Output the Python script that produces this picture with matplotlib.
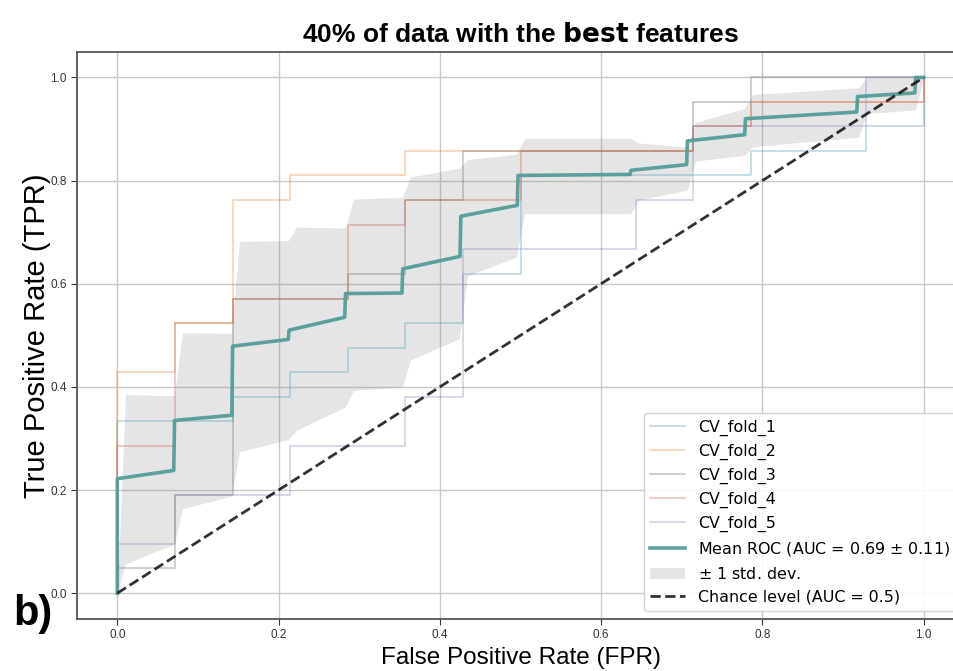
import matplotlib
matplotlib.use("Agg")
import matplotlib.pyplot as plt
from matplotlib import font_manager as fm

# ROC corner points of each CV fold
fold1_fpr = [0, 0, 0.143, 0.143, 0.214, 0.214, 0.286, 0.286, 0.357, 0.357, 0.429, 0.429,
             0.5, 0.5, 0.786, 0.786, 0.929, 0.929, 1.0, 1.0]
fold1_tpr = [0, 0.333, 0.333, 0.381, 0.381, 0.429, 0.429, 0.476, 0.476, 0.524, 0.524, 0.619,
             0.619, 0.81, 0.81, 0.857, 0.857, 0.905, 0.905, 1.0]

fold2_fpr = [0, 0, 0.071, 0.071, 0.143, 0.143, 0.214, 0.214, 0.357, 0.357, 0.714, 0.714,
             0.786, 0.786, 1.0, 1.0]
fold2_tpr = [0, 0.429, 0.429, 0.524, 0.524, 0.762, 0.762, 0.81, 0.81, 0.857, 0.857, 0.905,
             0.905, 0.952, 0.952, 1.0]

fold3_fpr = [0, 0, 0.071, 0.071, 0.143, 0.143, 0.286, 0.286, 0.357, 0.357, 0.429, 0.429,
             0.714, 0.714, 0.786, 0.786, 1.0]
fold3_tpr = [0, 0.048, 0.048, 0.19, 0.19, 0.571, 0.571, 0.619, 0.619, 0.762, 0.762, 0.857,
             0.857, 0.952, 0.952, 1.0, 1.0]

fold4_fpr = [0, 0, 0.071, 0.071, 0.143, 0.143, 0.286, 0.286, 0.357, 0.357, 0.5, 0.5,
             0.714, 0.714, 0.786, 0.786, 1.0, 1.0]
fold4_tpr = [0, 0.286, 0.286, 0.524, 0.524, 0.571, 0.571, 0.714, 0.714, 0.762, 0.762, 0.857,
             0.857, 0.905, 0.905, 0.952, 0.952, 1.0]

fold5_fpr = [0, 0, 0.071, 0.071, 0.214, 0.214, 0.357, 0.357, 0.429, 0.429, 0.643, 0.643,
             0.714, 0.714, 0.929, 0.929, 1.0]
fold5_tpr = [0, 0.095, 0.095, 0.19, 0.19, 0.286, 0.286, 0.381, 0.381, 0.667, 0.667, 0.762,
             0.762, 0.905, 0.905, 1.0, 1.0]

fold_labels = ["CV_fold_1", "CV_fold_2", "CV_fold_3", "CV_fold_4", "CV_fold_5"]

# mean ROC curve
mean_fpr = [0, 0, 0.070, 0.071, 0.142, 0.143, 0.212, 0.213, 0.282, 0.283, 0.353, 0.354,
            0.425, 0.426, 0.496, 0.497, 0.636, 0.637, 0.706, 0.707, 0.778, 0.779, 0.917,
            0.918, 0.989, 0.99, 1.0]
mean_tpr = [0, 0.222, 0.238, 0.335, 0.345, 0.479, 0.492, 0.510, 0.535, 0.581, 0.582, 0.629,
            0.653, 0.731, 0.752, 0.810, 0.812, 0.820, 0.831, 0.877, 0.889, 0.920, 0.933,
            0.963, 0.970, 1.0, 1.0]

# +/- 1 std band
band_fpr = [0, 0.0101, 0.0707, 0.0808, 0.1414, 0.1515, 0.2121, 0.2222, 0.2828, 0.2929,
            0.3535, 0.3636, 0.4242, 0.4343, 0.4949, 0.5051, 0.6364, 0.6465, 0.7071, 0.7172,
            0.7778, 0.7879, 0.9192, 0.9293, 0.9899, 1.0]
band_upper = [0, 0.385, 0.383, 0.505, 0.504, 0.682, 0.684, 0.710, 0.708, 0.764, 0.768, 0.807,
              0.824, 0.841, 0.851, 0.882, 0.882, 0.873, 0.865, 0.913, 0.940, 0.967, 0.980,
              1.0, 1.0, 1.0]
band_lower = [0, 0.057, 0.095, 0.164, 0.188, 0.274, 0.298, 0.316, 0.361, 0.393, 0.400, 0.452,
              0.494, 0.615, 0.652, 0.736, 0.736, 0.762, 0.782, 0.838, 0.849, 0.866, 0.884,
              0.930, 0.937, 1.0]

ticks = [0.0, 0.2, 0.4, 0.6, 0.8, 1.0]

fold_colors = ["#4a9fb8", "#f0883a", "#6e6e6e", "#d0604a", "#8a88c4"]


def pick_font(names):
    # first family that is really installed
    for n in names:
        try:
            fm.findfont(fm.FontProperties(family=n), fallback_to_default=False)
            return n
        except ValueError:
            pass
    return names[-1]


narrow = pick_font(["Liberation Sans Narrow", "Arial Narrow", "Liberation Sans"])
narrow_size = 20 if narrow != "Liberation Sans" else 17.5

fig = plt.figure(figsize=(9.54, 6.71), dpi=100)
# axes runs past the right edge of the picture, like the cropped original
ax = fig.add_axes([0.0807, 0.0775, 0.9298, 0.8455])

folds = [(fold1_fpr, fold1_tpr), (fold2_fpr, fold2_tpr), (fold3_fpr, fold3_tpr),
         (fold4_fpr, fold4_tpr), (fold5_fpr, fold5_tpr)]
for (fpr, tpr), lab, col in zip(folds, fold_labels, fold_colors):
    ax.plot(fpr, tpr, color=col, lw=1.2, alpha=0.38, label=lab)

ax.plot(mean_fpr, mean_tpr, color="#559d99", lw=2.6, alpha=0.95,
        label="Mean ROC (AUC = 0.69 $\\pm$ 0.11)")
ax.fill_between(band_fpr, band_lower, band_upper, color="grey", alpha=0.2, lw=0,
                label="$\\pm$ 1 std. dev.")
ax.plot([0, 1], [0, 1], "k--", lw=2, alpha=0.8, label="Chance level (AUC = 0.5)")

ax.set_xlim(-0.05, 1.05)
ax.set_ylim(-0.05, 1.05)
ax.set_xticks(ticks)
ax.set_yticks(ticks)
ax.tick_params(labelsize=8.5, colors="#333333", length=4)
for lbl in ax.get_xticklabels() + ax.get_yticklabels():
    lbl.set_family(narrow)
ax.grid(True, color="#c8c8c8", lw=1)
ax.set_axisbelow(True)
for s in ax.spines.values():
    s.set_color("#555555")
    s.set_linewidth(1.3)

ax.set_xlabel("False Positive Rate (FPR)", fontsize=narrow_size, family=narrow, labelpad=4)
ax.set_ylabel("True Positive Rate (TPR)", fontsize=21, family="Liberation Sans", labelpad=-1)
ax.set_title("40% of data with the $\\mathbf{best}$ features", fontsize=19,
             family="Liberation Sans", fontweight="bold", pad=7)

ax.legend(loc="lower right", fontsize=11.4, labelspacing=0.5, handlelength=2.2,
          edgecolor="#d0d0d0", framealpha=0.9)

fig.text(0.014, 0.068, "b)", fontsize=30, fontweight="bold", family="Liberation Sans")

fig.savefig("out.png", dpi=100)
